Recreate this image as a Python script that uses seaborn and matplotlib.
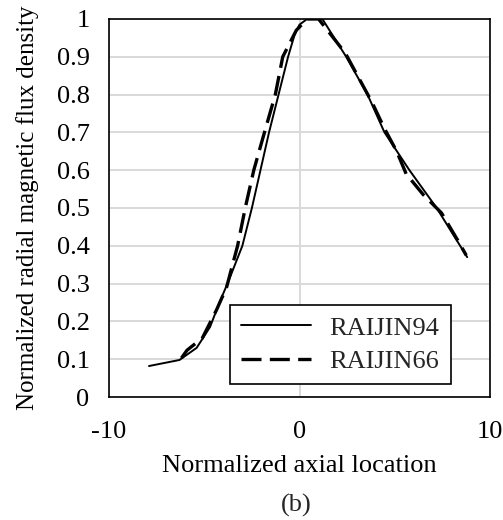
import numpy as np
import pandas as pd
import seaborn as sns
import matplotlib.pyplot as plt

# data
x_94 = [-7.9, -6.3, -5.4, -4.7, -4.2, -3.7, -3.0, -2.5, -2.05, -1.6, -1.1,
        -0.6, -0.26, 0.0, 0.4, 1.2, 2.45, 3.57, 4.46, 5.77, 7.2, 8.8]
y_94 = [0.082, 0.098, 0.13, 0.185, 0.25, 0.31, 0.40, 0.50, 0.60, 0.70, 0.80,
        0.90, 0.958, 0.985, 1.0, 1.0, 0.90, 0.80, 0.70, 0.60, 0.50, 0.37]

x_66 = [-6.2, -5.9, -5.1, -4.36, -3.83, -3.25, -2.85, -2.4, -1.84, -1.27,
        -0.88, -0.17, 0.4, 1.0, 2.4, 3.8, 4.46, 5.1, 5.6, 6.5, 7.45, 8.3, 8.75]
y_66 = [0.103, 0.124, 0.156, 0.23, 0.29, 0.40, 0.50, 0.60, 0.70, 0.80,
        0.90, 0.97, 1.0, 1.0, 0.91, 0.78, 0.71, 0.65, 0.59, 0.535, 0.487,
        0.415, 0.375]

x_ticks = [-10, 0, 10]
y_ticks = [0, 0.1, 0.2, 0.3, 0.4, 0.5, 0.6, 0.7, 0.8, 0.9, 1]
y_tick_labels = ['0', '0.1', '0.2', '0.3', '0.4', '0.5', '0.6', '0.7',
                 '0.8', '0.9', '1']

sns.set_style("white")
plt.rcParams['font.family'] = ['Liberation Serif', 'DejaVu Serif']
fs = 19

fig = plt.figure(figsize=(5.03, 5.2), dpi=100)
ax = fig.add_axes([0.2167, 0.2365, 0.7575, 0.727])

sns.lineplot(x=x_94, y=y_94, ax=ax, color='black', lw=1.4, sort=False,
             label='RAIJIN94')
sns.lineplot(x=x_66, y=y_66, ax=ax, color='black', lw=2.4, sort=False,
             linestyle=(0, (6, 2.5)), label='RAIJIN66')

ax.set_xlim(-10, 10)
ax.set_ylim(0, 1)
ax.set_xticks(x_ticks)
ax.set_xticklabels([str(v) for v in x_ticks])
ax.set_yticks(y_ticks)
ax.set_yticklabels(y_tick_labels)

ax.grid(True, color='#d9d9d9', lw=1.4)
ax.set_axisbelow(True)
for s in ax.spines.values():
    s.set_color('black')
    s.set_linewidth(1.2)
ax.tick_params(axis='both', direction='in', length=6, width=1.2,
               color='black', labelsize=fs, labelcolor='black')
ax.tick_params(axis='y', pad=14)
ax.tick_params(axis='x', pad=17)

ax.set_xlabel('Normalized axial location', fontsize=fs, color='black',
              labelpad=9)
ax.set_ylabel('Normalized radial magnetic flux density', fontsize=18,
              color='black', labelpad=13)

leg = ax.legend(loc='lower left', bbox_to_anchor=(0.318, 0.034),
                borderaxespad=0, fontsize=fs, frameon=True, fancybox=False,
                framealpha=1, edgecolor='black', handlelength=2.65,
                handletextpad=0.7, borderpad=0.42, labelspacing=0.38)
leg.get_frame().set_linewidth(1.2)

fig.text(0.589, 0.028, '(b)', fontsize=fs, ha='center', va='center')

plt.savefig('out.png', dpi=100)
